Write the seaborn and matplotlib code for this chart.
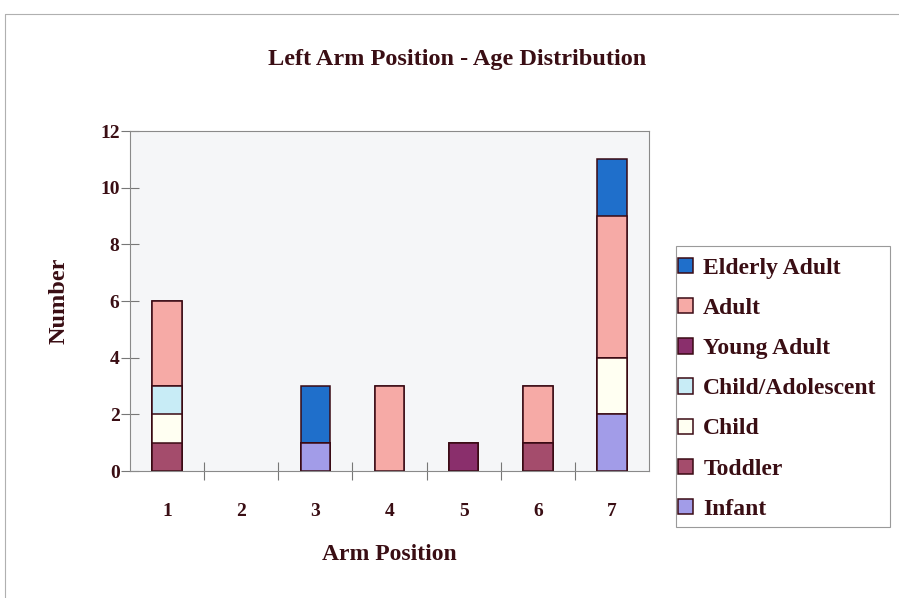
import matplotlib
matplotlib.use("Agg")
import matplotlib.pyplot as plt
from matplotlib.patches import Patch, Rectangle
from matplotlib.lines import Line2D
from matplotlib.ticker import FixedLocator
import numpy as np
import pandas as pd
import seaborn as sns

# Arm positions and head counts per age group
positions = ["1", "2", "3", "4", "5", "6", "7"]
infant = [0, 0, 1, 0, 0, 0, 2]
toddler = [1, 0, 0, 0, 0, 1, 0]
child = [1, 0, 0, 0, 0, 0, 2]
child_adolescent = [1, 0, 0, 0, 0, 0, 0]
young_adult = [0, 0, 0, 0, 1, 0, 0]
adult = [3, 0, 0, 3, 0, 2, 5]
elderly_adult = [0, 0, 2, 0, 0, 0, 2]

# stacking order, bottom to top
groups = ["Infant", "Toddler", "Child", "Child/Adolescent",
          "Young Adult", "Adult", "Elderly Adult"]
series = [infant, toddler, child, child_adolescent,
          young_adult, adult, elderly_adult]
colors = {
    "Infant": "#a29ce8",
    "Toddler": "#a44c6c",
    "Child": "#fffff2",
    "Child/Adolescent": "#c8ecf6",
    "Young Adult": "#8a2f6c",
    "Adult": "#f6aaa6",
    "Elderly Adult": "#1f6fcb",
}
ink = "#3a0e14"
edge = "#3a0a14"

sns.set_style("white")
plt.rcParams["font.family"] = ["Liberation Serif", "DejaVu Serif"]
plt.rcParams["font.weight"] = "bold"

fig = plt.figure(figsize=(8.99, 5.98), dpi=100, facecolor="white")
ax = fig.add_axes([130 / 899, 1 - 471 / 598, 519 / 899, 340 / 598])
ax.set_facecolor("#f5f6f8")

# cumulative tops, drawn from the tallest layer down so each layer covers the one above its base
df = pd.DataFrame({"position": positions})
running = np.zeros(len(positions))
for name, vals in zip(groups, series):
    running = running + np.array(vals, dtype=float)
    df[name] = running.copy()

for name in reversed(groups):
    sns.barplot(data=df, x="position", y=name, order=positions,
                color=colors[name], saturation=1, width=0.40,
                edgecolor=edge, linewidth=1.1, ax=ax)

# empty segments leave no outline on the baseline
for p in ax.patches:
    if p.get_height() == 0:
        p.set_visible(False)

ax.set_ylim(0, 12)
ax.set_xlim(-0.5, 6.5)
ax.set_yticks(range(0, 13, 2))
ax.tick_params(axis="y", left=True, direction="inout", length=13, width=0.8,
               color="#777777", pad=1, labelsize=14, labelcolor=ink)
ax.tick_params(axis="x", which="major", bottom=True, length=0, pad=23,
               labelsize=14, labelcolor=ink)
ax.xaxis.set_minor_locator(FixedLocator(np.arange(0.5, 6.0, 1.0)))
ax.tick_params(axis="x", which="minor", bottom=True, direction="inout",
               length=13, width=0.8, color="#777777")
for lab in ax.get_xticklabels() + ax.get_yticklabels():
    lab.set_fontweight("bold")

for s in ax.spines.values():
    s.set_visible(True)
    s.set_color("#8a8a8a")
    s.set_linewidth(0.8)

ax.set_xlabel("Arm Position", fontsize=17, fontweight="bold", color=ink,
              labelpad=17)
ax.set_ylabel("Number", fontsize=17.5, fontweight="bold", color=ink,
              labelpad=22)

fig.text(457 / 899, 1 - 59 / 598, "Left Arm Position - Age Distribution",
         ha="center", va="center", fontsize=17.5, fontweight="bold", color=ink)

# chart frame
fig.add_artist(Line2D([5 / 899, 1.0], [1 - 14 / 598, 1 - 14 / 598],
                      transform=fig.transFigure, color="#b0b0b0", lw=0.8))
fig.add_artist(Line2D([5 / 899, 5 / 899], [1 - 14 / 598, 0.0],
                      transform=fig.transFigure, color="#b0b0b0", lw=0.8))

# legend box
fig.add_artist(Rectangle((676 / 899, 1 - 527 / 598), 214 / 899, 281 / 598,
                         transform=fig.transFigure, facecolor="white",
                         edgecolor="#9a9a9a", linewidth=0.8, zorder=1))
handles = [Patch(facecolor=colors[g], edgecolor=edge, linewidth=1.1, label=g)
           for g in reversed(groups)]
leg = fig.legend(handles=handles, loc="upper left",
                 bbox_to_anchor=(678 / 899, 1 - 258 / 598),
                 bbox_transform=fig.transFigure, frameon=False,
                 borderaxespad=0, borderpad=0, handlelength=0.62,
                 handleheight=0.62, handletextpad=0.45, labelspacing=0.81,
                 prop={"family": "Liberation Serif", "weight": "bold", "size": 17})
leg.set_zorder(2)
for t in leg.get_texts():
    t.set_color(ink)

fig.savefig("out.png", dpi=100, facecolor="white")
